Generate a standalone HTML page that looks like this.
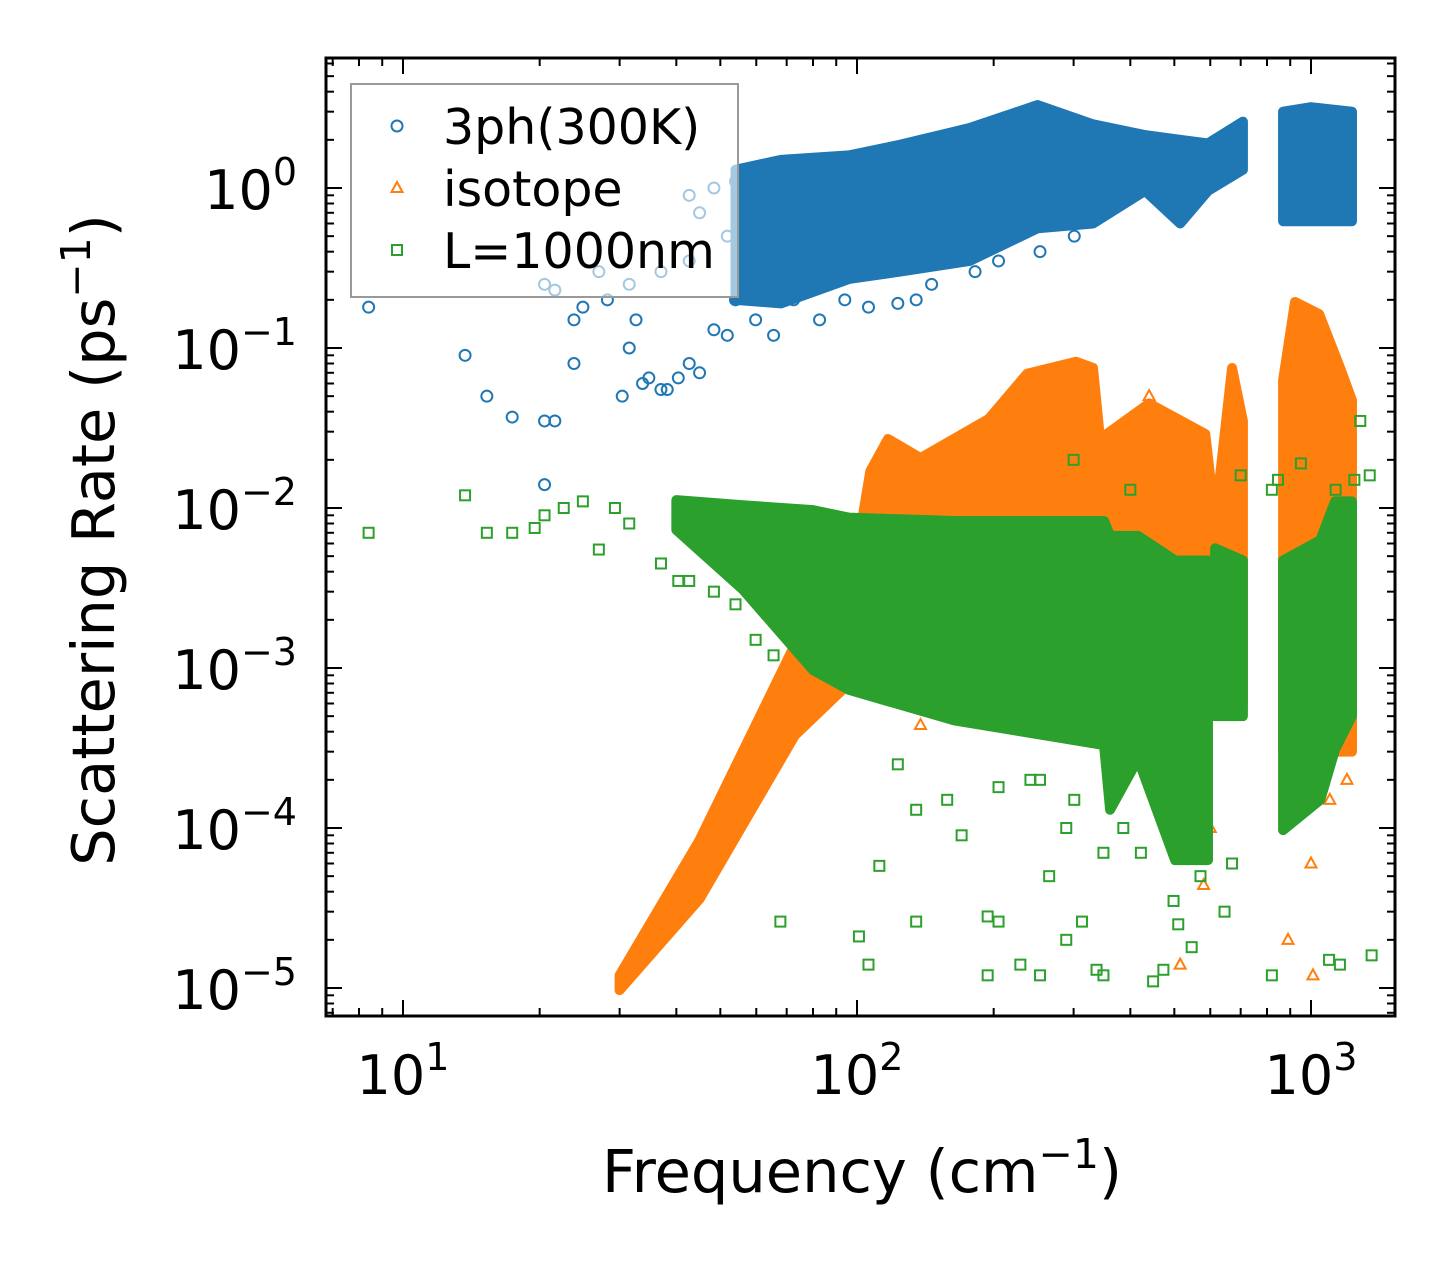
<!DOCTYPE html>
<html><head><meta charset="utf-8"><style>
html,body{margin:0;padding:0;background:#fff;}
svg text{font-family:"DejaVu Sans","Liberation Sans",sans-serif;}
</style></head><body>
<svg id="chart" width="1455" height="1265" xmlns="http://www.w3.org/2000/svg" style="position:absolute;left:0;top:0">
<rect width="1455" height="1265" fill="#fff"/>
<g id="plot"></g>
<g id="axes"></g>
</svg>
<script>
// ---- data (frequency cm^-1, rate ps^-1) ----
// dense-region envelopes: frequency, upper, lower, segment id
const blueF  = [54,68,96,124,177,250,331,431,515,593,708, 868,1000,1231];
const blueHi = [1.3,1.5,1.6,1.86,2.37,3.3,2.5,2.14,2.0,1.9,2.6, 3.0,3.2,3.0];
const blueLo = [0.2,0.19,0.27,0.3,0.35,0.56,0.6,0.96,0.6,0.96,1.3, 0.62,0.62,0.62];
const blueSeg= [0,0,0,0,0,0,0,0,0,0,0, 1,1,1];
const orF  = [30,45,73,96,107,117,138,195,237,304,331,343,440,585,615,670,708, 868,922,1042,1159,1231];
const orHi = [1.2e-5,8.4e-5,1.4e-3,2.7e-3,1.7e-2,2.7e-2,2.05e-2,3.6e-2,6.9e-2,8.2e-2,7.5e-2,2.7e-2,4.5e-2,2.9e-2,8.4e-3,7.5e-2,3.5e-2, 6.3e-2,1.94e-1,1.63e-1,7.5e-2,4.7e-2];
const orLo = [9.7e-6,3.6e-5,3.8e-4,8e-4,1.1e-3,1.3e-3,1.3e-3,1.3e-3,1.3e-3,1.2e-3,1e-3,1e-3,8e-4,6e-4,6e-4,6e-4,6e-4, 3e-4,3e-4,3e-4,3e-4,3e-4];
const orSeg= [0,0,0,0,0,0,0,0,0,0,0,0,0,0,0,0,0, 1,1,1,1,1];
const grF  = [40,56,80,96,164,350,361,416,502,593, 615,708, 868,1048,1130,1231];
const grHi = [1.12e-2,1.04e-2,9.7e-3,8.7e-3,8.3e-3,8.3e-3,6.7e-3,6.7e-3,4.7e-3,4.7e-3, 5.6e-3,4.7e-3, 4.7e-3,6.3e-3,1.1e-2,1.1e-2];
const grLo = [7.3e-3,3.1e-3,9.7e-4,7.3e-4,4.7e-4,3.3e-4,1.3e-4,2.7e-4,6.3e-5,6.3e-5, 5e-4,5e-4, 9.7e-5,1.5e-4,3.1e-4,5e-4];
const grSeg= [0,0,0,0,0,0,0,0,0,0, 1,1, 2,2,2,2];
// individual scattered points
const blueX = [8.4,13.7,15.3,17.4,20.5,21.6,20.5,23.8,23.8,24.9,27,28.2,30.4,31.5,32.6,33.7,34.8,37,38.2,40.4,42.7,45,31.5,37,42.7,48.4,51.8,59.8,65.5,54,20.5,21.6,42.7,48.4,54,45,51.8,56.3,63,67.8,72.5,82.7,94,106,123,135,146,182,205,253,301];
const blueY = [0.18,0.09,0.05,0.037,0.035,0.035,0.014,0.08,0.15,0.18,0.3,0.2,0.05,0.1,0.15,0.06,0.065,0.055,0.055,0.065,0.08,0.07,0.25,0.3,0.35,0.13,0.12,0.15,0.12,0.2,0.25,0.23,0.9,1.0,1.1,0.7,0.5,0.6,0.4,0.3,0.2,0.15,0.2,0.18,0.19,0.2,0.25,0.3,0.35,0.4,0.5];
const orX = [515,580,1010,1000,890,1200,440,138,600,1100];
const orY = [1.4e-5,4.4e-5,1.2e-5,6e-5,2e-5,2e-4,5e-2,4.4e-4,1e-4,1.5e-4];
const grX = [8.4,13.7,15.3,17.4,19.5,20.5,22.6,24.9,27,29.3,31.5,37,40.4,42.7,48.4,54,59.8,65.5,67.8,101,106,112,135,194,205,229,253,194,265,289,313,337,349,449,473,510,546,571,645,820,1096,1158,1360,422,498,349,289,253,123,135,158,170,205,241,301,386,473,498,670,846,1284,1246,1133,1347,820,950,700,400,300];
const grY = [0.007,0.012,0.007,0.007,0.0075,0.009,0.01,0.011,0.0055,0.01,0.008,0.0045,0.0035,0.0035,0.003,0.0025,0.0015,0.0012,2.6e-5,2.1e-5,1.4e-5,5.8e-5,2.6e-5,2.8e-5,2.6e-5,1.4e-5,1.2e-5,1.2e-5,5e-5,2e-5,2.6e-5,1.3e-5,1.2e-5,1.1e-5,1.3e-5,2.5e-5,1.8e-5,5e-5,3e-5,1.2e-5,1.5e-5,1.4e-5,1.6e-5,7e-5,3.5e-5,7e-5,1e-4,2e-4,2.5e-4,1.3e-4,1.5e-4,9e-5,1.8e-4,2e-4,1.5e-4,1e-4,1.3e-4,1.2e-4,6e-5,1.5e-2,3.5e-2,1.5e-2,1.3e-2,1.6e-2,1.3e-2,1.9e-2,1.6e-2,1.3e-2,2e-2];
const xTickVals = [1,2,3];
const yTickVals = [0,-1,-2,-3,-4,-5];

// ---- axes ----
const L=326,R=1395,T=58,B=1016;
const X = f => 403 + 454*(Math.log10(f)-1);
const Y = v => 188 - 160*Math.log10(v);
const NS='http://www.w3.org/2000/svg';
const plot=document.getElementById('plot'), axes=document.getElementById('axes');
function mk(tag,attrs,parent){const e=document.createElementNS(NS,tag);for(const k in attrs)e.setAttribute(k,attrs[k]);parent.appendChild(e);return e;}

const clip=mk('clipPath',{id:'clip'},document.getElementById('chart'));
mk('rect',{x:L,y:T,width:R-L,height:B-T},clip);
plot.setAttribute('clip-path','url(#clip)');

function envelope(F,Hi,Lo,Seg,color,name){
  const segs=[...new Set(Seg)];
  segs.forEach(s=>{
    const idx=F.map((_,i)=>i).filter(i=>Seg[i]===s);
    const pts=idx.map(i=>X(F[i])+','+Y(Hi[i])).concat(idx.slice().reverse().map(i=>X(F[i])+','+Y(Lo[i])));
    const p=mk('polygon',{points:pts.join(' '),fill:color,stroke:color,'stroke-width':10,'stroke-linejoin':'round'},plot);
    
    
  });
}
function circles(xs,ys,color,name){
  xs.forEach((x,i)=>{const c=mk('circle',{cx:X(x),cy:Y(ys[i]),r:5.5,fill:'none',stroke:color,'stroke-width':2},plot);
    
    });
}
function tris(xs,ys,color,name){
  xs.forEach((x,i)=>{const cx=X(x),cy=Y(ys[i]);
    const t=mk('polygon',{points:`${cx},${cy-6} ${cx-5.5},${cy+4} ${cx+5.5},${cy+4}`,fill:'none',stroke:color,'stroke-width':2},plot);
    
    });
}
function squares(xs,ys,color,name){
  xs.forEach((x,i)=>{const s=mk('rect',{x:X(x)-5,y:Y(ys[i])-5,width:10,height:10,fill:'none',stroke:color,'stroke-width':2},plot);
    
    });
}
envelope(blueF,blueHi,blueLo,blueSeg,'#1f77b4','3ph');
circles(blueX,blueY,'#1f77b4','3ph-point');
envelope(orF,orHi,orLo,orSeg,'#ff7f0e','isotope');
tris(orX,orY,'#ff7f0e','isotope-point');
envelope(grF,grHi,grLo,grSeg,'#2ca02c','boundary');
squares(grX,grY,'#2ca02c','boundary-point');

// frame
const fr=mk('rect',{x:L,y:T,width:R-L,height:B-T,fill:'none',stroke:'#000','stroke-width':3},axes);


for(let d=0;d<=3;d++){for(let m=1;m<=9;m++){const f=Math.pow(10,d)*m;const x=X(f);if(x<L||x>R)continue;const len=m===1?16:8;
  mk('line',{x1:x,y1:B,x2:x,y2:B-len,stroke:'#000','stroke-width':2},axes);
  mk('line',{x1:x,y1:T,x2:x,y2:T+len,stroke:'#000','stroke-width':2},axes);}}
xTickVals.forEach(p=>{const t=mk('text',{x:X(Math.pow(10,p)),y:1094,'font-size':54,'text-anchor':'middle'},axes);
  
  
  t.innerHTML=`10<tspan dy="-24" font-size="38">${p}</tspan>`;});
for(let d=-6;d<=0;d++){for(let m=1;m<=9;m++){const v=Math.pow(10,d)*m;const y=Y(v);if(y<T||y>B)continue;const len=m===1?16:8;
  mk('line',{x1:L,y1:y,x2:L+len,y2:y,stroke:'#000','stroke-width':2},axes);
  mk('line',{x1:R,y1:y,x2:R-len,y2:y,stroke:'#000','stroke-width':2},axes);}}
yTickVals.forEach(p=>{const t=mk('text',{x:297,y:Y(Math.pow(10,p))+21,'font-size':54,'text-anchor':'end'},axes);
  
  
  t.innerHTML= p===0?`10<tspan dy="-24" font-size="38">0</tspan>`:`10<tspan dy="-24" font-size="38">−${-p}</tspan>`;});
</script>
<svg style="position:absolute;left:0;top:0" width="1455" height="1265" xmlns="http://www.w3.org/2000/svg">
<text x="862" y="1192" font-size="59" text-anchor="middle" font-family="DejaVu Sans, Liberation Sans, sans-serif">Frequency (cm<tspan dy="-24" font-size="41">−1</tspan><tspan dy="24">)</tspan></text>
<text transform="translate(114,540) rotate(-90)" font-size="59" text-anchor="middle" font-family="DejaVu Sans, Liberation Sans, sans-serif">Scattering Rate (ps<tspan dy="-24" font-size="41">−1</tspan><tspan dy="24">)</tspan></text>
<g>
<rect x="351" y="84" width="387" height="213" fill="#fff" fill-opacity="0.6" stroke="#999" stroke-width="2"/>
<circle cx="397" cy="126" r="5.5" fill="none" stroke="#1f77b4" stroke-width="2"/>
<polygon points="397,182 391.5,192 402.5,192" fill="none" stroke="#ff7f0e" stroke-width="2"/>
<rect x="392" y="245" width="10" height="10" fill="none" stroke="#2ca02c" stroke-width="2"/>
<text x="443" y="144" font-size="49" font-family="DejaVu Sans, Liberation Sans, sans-serif">3ph(300K)</text>
<text x="443" y="206" font-size="49" font-family="DejaVu Sans, Liberation Sans, sans-serif">isotope</text>
<text x="443" y="268" font-size="49" font-family="DejaVu Sans, Liberation Sans, sans-serif">L=1000nm</text>
</g>
</svg>
</body></html>
